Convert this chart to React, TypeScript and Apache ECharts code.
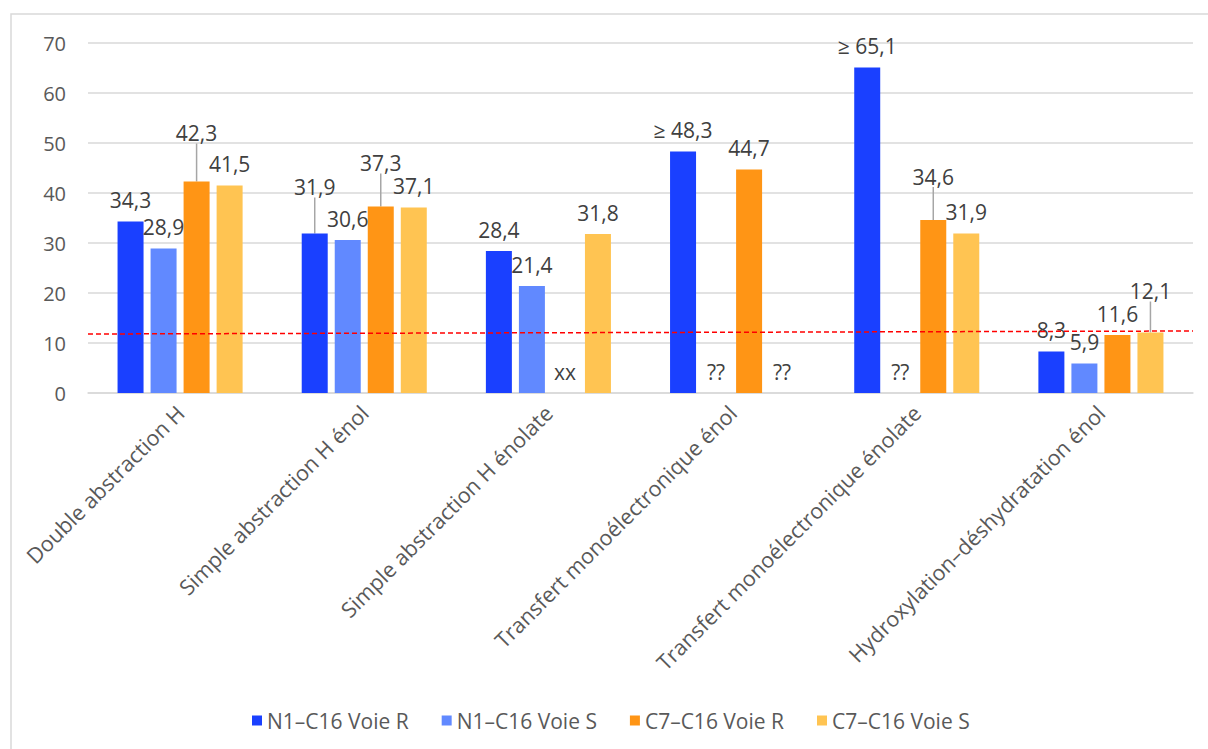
import React, { useEffect, useRef } from "react";
import * as echarts from "echarts";

const categories = [
  "Double abstraction H",
  "Simple abstraction H énol",
  "Simple abstraction H énolate",
  "Transfert monoélectronique énol",
  "Transfert monoélectronique énolate",
  "Hydroxylation–déshydratation énol",
];
const seriesNames = ["N1–C16 Voie R", "N1–C16 Voie S", "C7–C16 Voie R", "C7–C16 Voie S"];
const n1R = [34.3, 31.9, 28.4, 48.3, 65.1, 8.3];
const n1S = [28.9, 30.6, 21.4, null, null, 5.9];
const c7R = [42.3, 37.3, null, 44.7, 34.6, 11.6];
const c7S = [41.5, 37.1, 31.8, null, 31.9, 12.1];
// label prefixes ("≥") and texts for missing values
const n1RPrefix = ["", "", "", "≥ ", "≥ ", ""];
const n1SMissing = ["", "", "", "??", "??", ""];
const c7RMissing = ["", "", "xx", "", "", ""];
const c7SMissing = ["", "", "", "??", "", ""];
const thresholdX = [0, 1];
const thresholdY = [11.8, 12.4];
const yTicks = [0, 10, 20, 30, 40, 50, 60, 70];

const colors = ["#1A40FF", "#6189FF", "#FF9515", "#FFC452"];

// labels lifted with a leader line: "series-index" -> dy
const lifted: Record<string, number> = {
  "2-0": -27,
  "0-1": -25,
  "2-1": -22,
  "2-4": -22,
  "3-5": -20,
};

const FONT = "Open Sans";
const EMPTY = ["", "", "", "", "", ""];

function fmt(v: number) {
  return v.toFixed(1).replace(".", ",");
}

export default function App() {
  const ref = useRef<HTMLDivElement>(null);
  useEffect(() => {
    if (!ref.current) return;
    const chart = echarts.init(ref.current, undefined, { renderer: "svg" });
    const values = [n1R, n1S, c7R, c7S];
    const prefixes = [n1RPrefix, EMPTY, EMPTY, EMPTY];
    const missing = [EMPTY, n1SMissing, c7RMissing, c7SMissing];

    const barSeries = values.map((vals, si) => ({
      type: "bar",
      name: seriesNames[si],
      barWidth: 26,
      barGap: "27%",
      itemStyle: { color: colors[si] },
      label: {
        show: true,
        position: "top",
        distance: 11,
        color: "#404040",
        fontSize: 21,
        fontFamily: FONT,
      },
      labelLine: { show: false },
      labelLayout: (p: any) => {
        const dy = lifted[`${p.seriesIndex}-${p.dataIndex}`];
        return dy ? { dy } : {};
      },
      data: vals.map((v, i) => {
        if (v === null) {
          return {
            value: 0,
            label: { formatter: missing[si][i] },
          };
        }
        const isLifted = lifted[`${si}-${i}`] !== undefined;
        return {
          value: v,
          label: { formatter: prefixes[si][i] + fmt(v) },
          labelLine: {
            show: isLifted,
            lineStyle: { color: "#a6a6a6", width: 1.5 },
          },
        };
      }),
    }));

    chart.setOption({
      animation: false,
      backgroundColor: "#ffffff",
      textStyle: { fontFamily: FONT },
      graphic: [
        {
          type: "rect",
          shape: { x: 11, y: 14, width: 1220, height: 760 },
          style: { fill: "none", stroke: "#d9d9d9", lineWidth: 1.5 },
          silent: true,
        },
      ],
      grid: { left: 88, right: 15, top: 43, bottom: 356, containLabel: false },
      legend: {
        data: seriesNames,
        top: 705,
        left: 247,
        icon: "rect",
        itemWidth: 10,
        itemHeight: 10,
        itemGap: 33,
        textStyle: { color: "#595959", fontSize: 21, fontFamily: FONT },
      },
      xAxis: [
        {
          type: "category",
          data: categories,
          axisLine: { lineStyle: { color: "#d9d9d9", width: 1.5 } },
          axisTick: { show: false },
          axisLabel: {
            rotate: 45,
            margin: 16,
            color: "#595959",
            fontSize: 21.5,
            fontFamily: FONT,
            interval: 0,
          },
        },
        { type: "value", min: thresholdX[0], max: thresholdX[1], show: false },
      ],
      yAxis: {
        type: "value",
        min: yTicks[0],
        max: yTicks[yTicks.length - 1],
        interval: 10,
        axisLine: { show: false },
        axisTick: { show: false },
        axisLabel: { color: "#595959", fontSize: 20, fontFamily: FONT, margin: 22 },
        splitLine: { lineStyle: { color: "#d9d9d9", width: 1.5 } },
      },
      series: [
        ...barSeries,
        {
          type: "line",
          xAxisIndex: 1,
          silent: true,
          symbol: "none",
          z: 10,
          lineStyle: { color: "#ff0000", type: [5, 3], width: 1.5 },
          data: thresholdX.map((x, i) => [x, thresholdY[i]]),
        },
      ],
    });
    return () => chart.dispose();
  }, []);
  return (
    <div
      ref={ref}
      style={{ position: "absolute", left: 0, top: 0, width: 1208, height: 749 }}
    />
  );
}
